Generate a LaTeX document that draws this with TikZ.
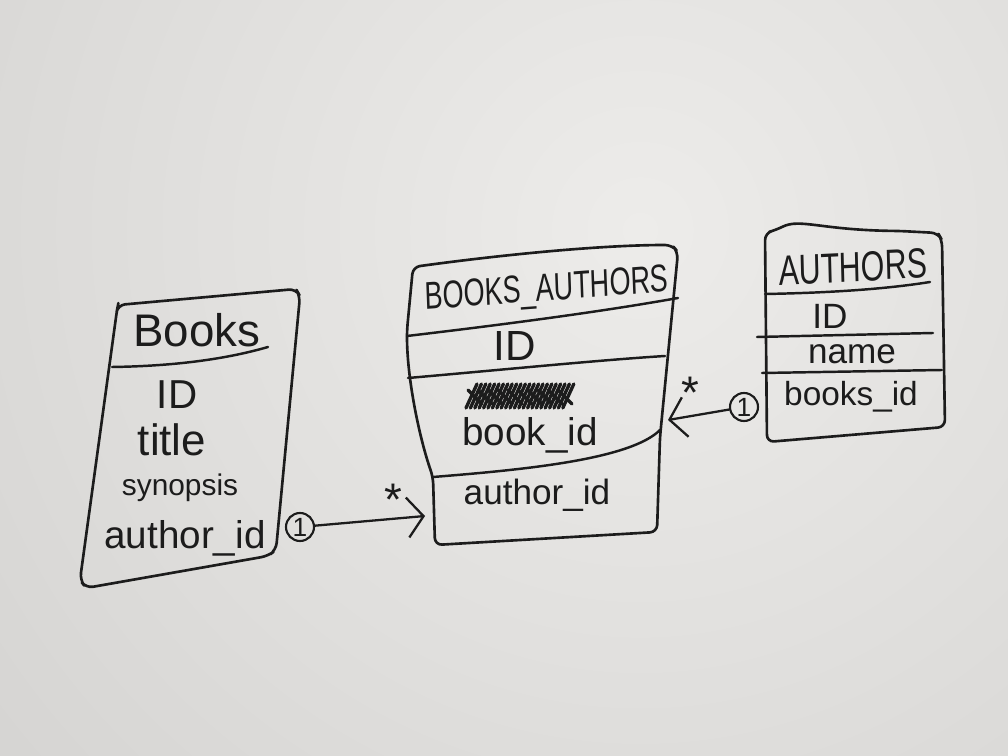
\documentclass[tikz,border=0pt]{standalone}
\usepackage{fontspec}
\setmainfont{Liberation Sans}
\usetikzlibrary{arrows.meta, positioning}
\definecolor{PaperLight}{HTML}{EDECEA}
\definecolor{PaperShade}{HTML}{BDBCBA}
\definecolor{Ink}{HTML}{1C1C1C}
\tikzset{
    % Hand-drawn table outline
    tableline/.style={
        draw=Ink,
        line width=1.5pt,
        line join=round,
        line cap=round,
        rounded corners=4pt
    },
    % Row separator
    rowline/.style={
        draw=Ink,
        line width=1.4pt,
        line cap=round
    },
    % Table title
    tabletitle/.style={
        text=Ink,
        inner sep=0pt,
        font=\fontsize{24}{28}\selectfont
    },
    % Field name
    field/.style={
        text=Ink,
        inner sep=0pt,
        font=\fontsize{22}{26}\selectfont
    },
    % Multiplicity one
    onemark/.style={
        circle,
        draw=Ink,
        line width=1.2pt,
        inner sep=0pt,
        minimum size=0.56cm,
        text=Ink,
        font=\fontsize{15}{17}\selectfont
    },
    % Multiplicity many
    manymark/.style={
        text=Ink,
        inner sep=0pt,
        font=\fontsize{26}{26}\selectfont
    },
    % Relation arrow
    relation/.style={
        draw=Ink,
        line width=1.3pt,
        line cap=round,
        -{Straight Barb[length=0.32cm, width=0.8cm, line width=1.3pt]}
    },
    % Crossed-out word
    scribble/.style={
        draw=Ink,
        line width=1.9pt,
        line cap=round
    }
}

\begin{document}
\begin{tikzpicture}[x=0.02cm, y=-0.02cm]
    % Paper
    \useasboundingbox (0,0) rectangle (1008,756);
    \begin{scope}
        \clip (0,0) rectangle (1008,756);
        \shade[inner color=PaperLight, outer color=PaperShade] (640,230) circle (34cm);
    \end{scope}

    % Books table
    \draw[tableline] (117,310) -- (118,305) -- (296,289) -- (300,296) -- (276,550)
        -- (268,556) -- (86,588) -- (80,580) -- cycle;
    \draw[rowline] (112,367) .. controls (180,366) and (230,358) .. (268,347);
    \node (bk-title) [tabletitle, font=\fontsize{26}{30}\selectfont] at (197,330) {Books};
    \node (bk-id) [field, font=\fontsize{23}{27}\selectfont] at (177,395) {ID};
    \node (bk-name) [field, font=\fontsize{25}{29}\selectfont] at (172,440) {title};
    \node (bk-syn) [field, font=\fontsize{17}{20}\selectfont] at (180,488) {synopsis};
    \node (bk-author) [field, font=\fontsize{22}{26}\selectfont] at (185,538) {author\_id};

    % Books_Authors table
    \draw[tableline] (413,267) .. controls (500,255) and (600,245) .. (672,245) -- (678,252)
        -- (660,437) -- (657,532) -- (435,545) -- (433,477)
        .. controls (420,440) and (407,380) .. (407,330) -- cycle;
    \draw[rowline] (407,336) .. controls (500,325) and (600,312) .. (678,298);
    \draw[rowline] (408,378) .. controls (500,370) and (600,360) .. (665,356);
    \draw[rowline] (433,477) .. controls (520,470) and (630,460) .. (660,430);
    \node (ba-title) [tabletitle, xscale=0.7, rotate=3, font=\fontsize{22}{26}\selectfont] at (547,291) {BOOKS\_AUTHORS};
    \node (ba-id) [field, font=\fontsize{24}{28}\selectfont] at (515,346) {ID};
    \foreach \k in {0,...,22}
        \draw[scribble] ({466+4.4*\k},408) -- ({477+4.4*\k},384);
    \foreach \k in {0,...,9}
        \draw[scribble] ({468+10*\k},390) -- ({482+10*\k},404);
    \node (ba-book) [field, font=\fontsize{22}{26}\selectfont] at (530,435) {book\_id};
    \node (ba-author) [field, font=\fontsize{20}{24}\selectfont] at (537,495) {author\_id};

    % Authors table
    \draw[tableline] (765,233) -- (776,230) .. controls (800,218) and (820,230) .. (900,231)
        -- (938,233) -- (942,240) -- (945,427) -- (767,442) -- cycle;
    \draw[rowline] (765,294) .. controls (820,293) and (880,290) .. (930,282);
    \draw[rowline] (757,337) -- (933,333);
    \draw[rowline] (762,373) -- (942,370);
    \node (au-title) [tabletitle, xscale=0.72, rotate=2] at (853,267) {AUTHORS};
    \node (au-id) [field, font=\fontsize{20}{24}\selectfont] at (830,316) {ID};
    \node (au-name) [field, font=\fontsize{20}{24}\selectfont] at (852,354) {name};
    \node (au-books) [field, font=\fontsize{19}{23}\selectfont] at (851,397) {books\_id};

    % Relations
    \node (bk-one) [onemark] at (300,527) {1};
    \coordinate (ba-west) at (425,516);
    \draw[relation] (bk-one) -- (ba-west);
    \node (bk-many) [manymark] at (393,500) {*};

    \node (au-one) [onemark] at (744,407) {1};
    \coordinate (ba-east) at (668,420);
    \draw[relation] (au-one) -- (ba-east);
    \node (au-many) [manymark] at (690,393) {*};
\end{tikzpicture}
\end{document}
